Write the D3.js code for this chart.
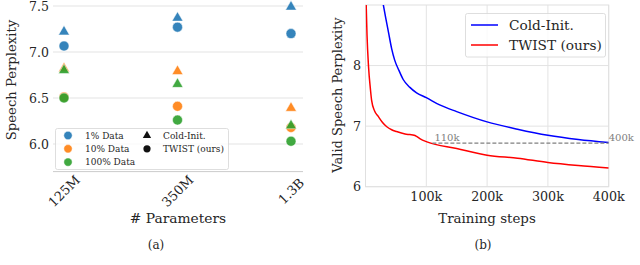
<!DOCTYPE html>
<html>
<head>
<meta charset="utf-8">
<script src="https://cdn.jsdelivr.net/npm/d3@7"></script>
<style>
  body { margin: 0; background: #fff; }
  svg { font-family: "DejaVu Serif", serif; }
</style>
</head>
<body>
<svg id="drawing_region"></svg>
<script>
// ---- panel (a) data ----
const sizes = ["125M", "350M", "1.3B"];
const dataLabels = ["1% Data", "10% Data", "100% Data"];
const dataColors = ["#1f77b4", "#ff7f0e", "#2ca02c"];
const coldInit = [
    [7.22, 7.37, 7.49],
    [6.82, 6.79, 6.39],
    [6.80, 6.65, 6.20]
];
const twist = [
    [7.065, 7.27, 7.20],
    [6.51, 6.41, 6.18],
    [6.50, 6.26, 6.03]
];
const yTicksA = [6.0, 6.5, 7.0, 7.5];

// ---- panel (b) data ----
const coldSteps = [29000, 33000, 38000, 43000, 48000, 55000, 62000, 73000, 84000, 100000, 122000, 150000, 200000, 250000, 300000, 350000, 400000];
const coldPpl   = [9.02, 8.80, 8.54, 8.28, 8.09, 7.92, 7.77, 7.64, 7.55, 7.47, 7.35, 7.24, 7.07, 6.95, 6.85, 6.78, 6.73];
const twistSteps = [1000, 2500, 5000, 8000, 10000, 15000, 21000, 28000, 35000, 43000, 51000, 65000, 73000, 80000, 84000, 90000, 101000, 150000, 200000, 250000, 300000, 350000, 400000];
const twistPpl   = [9.05, 8.50, 7.98, 7.62, 7.43, 7.25, 7.16, 7.06, 6.99, 6.94, 6.91, 6.87, 6.86, 6.85, 6.83, 6.79, 6.74, 6.63, 6.52, 6.47, 6.40, 6.35, 6.31];
const xTicksB = [100000, 200000, 300000, 400000];
const yTicksB = [6, 7, 8];
const refLevel = 6.72;
const refStart = 110000;
const refEnd = 400000;

const svg = d3.select('#drawing_region')
    .attr('width', 640)
    .attr('height', 265);

const gridColor = '#e3e3e3';
const textColor = '#262626';

// =============== panel (a) ===============
const a = { left: 53, right: 303, top: 6, bottom: 171.6 };

const xa = d3.scalePoint().domain(sizes).range([64, 291]);
const ya = d3.scaleLinear().domain([5.7, 7.5]).range([a.bottom, a.top]);

const ga = svg.append('g');

ga.selectAll('.grid')
    .data(yTicksA)
    .enter()
    .append('line')
    .attr('x1', a.left).attr('x2', a.right)
    .attr('y1', d => ya(d)).attr('y2', d => ya(d))
    .attr('stroke', gridColor).attr('stroke-width', 1);

ga.append('line')
    .attr('x1', a.left).attr('x2', a.right)
    .attr('y1', a.bottom).attr('y2', a.bottom)
    .attr('stroke', '#cccccc').attr('stroke-width', 1);

ga.selectAll('.ytick')
    .data(yTicksA)
    .enter()
    .append('text')
    .attr('x', 49)
    .attr('y', d => ya(d))
    .attr('dy', '0.36em')
    .attr('text-anchor', 'end')
    .attr('font-size', '12.5px')
    .attr('fill', textColor)
    .text(d => d3.format('.1f')(d));

ga.selectAll('.xtick')
    .data(sizes)
    .enter()
    .append('text')
    .attr('transform', d => `translate(${xa(d)}, 191) rotate(-45)`)
    .attr('text-anchor', 'middle')
    .attr('dy', '0.36em')
    .attr('font-size', '13px')
    .attr('fill', textColor)
    .text(d => d);

ga.append('text')
    .attr('transform', 'translate(11, 80) rotate(-90)')
    .attr('text-anchor', 'middle')
    .attr('dy', '0.36em')
    .attr('font-size', '13.2px')
    .attr('fill', textColor)
    .text('Speech Perplexity');

ga.append('text')
    .attr('x', 178).attr('y', 223)
    .attr('text-anchor', 'middle')
    .attr('font-size', '13.8px')
    .attr('fill', textColor)
    .text('# Parameters');

ga.append('text')
    .attr('x', 156).attr('y', 249)
    .attr('text-anchor', 'middle')
    .attr('font-size', '12px')
    .attr('fill', textColor)
    .text('(a)');

const tri = d3.symbol().type(d3.symbolTriangle).size(52);

dataLabels.forEach((lab, i) => {
    ga.selectAll('.tri' + i)
        .data(coldInit[i])
        .enter()
        .append('path')
        .attr('d', tri)
        .attr('transform', (d, j) => `translate(${xa(sizes[j])}, ${ya(d)})`)
        .attr('fill', dataColors[i])
        .attr('fill-opacity', 0.9)
        .attr('stroke', '#fff').attr('stroke-width', 0.5);
    ga.selectAll('.dot' + i)
        .data(twist[i])
        .enter()
        .append('circle')
        .attr('cx', (d, j) => xa(sizes[j]))
        .attr('cy', d => ya(d))
        .attr('r', 5)
        .attr('fill', dataColors[i])
        .attr('fill-opacity', 0.9)
        .attr('stroke', '#fff').attr('stroke-width', 0.5);
});

// legend (a)
const la = ga.append('g');
la.append('rect')
    .attr('x', 55.5).attr('y', 128.5)
    .attr('width', 173).attr('height', 41)
    .attr('rx', 2)
    .attr('fill', '#fff').attr('fill-opacity', 0.8)
    .attr('stroke', '#d6d6d6').attr('stroke-width', 0.8);

dataLabels.forEach((lab, i) => {
    const y = 135.5 + i * 13.3;
    la.append('circle')
        .attr('cx', 68).attr('cy', y).attr('r', 4.2)
        .attr('fill', dataColors[i])
        .attr('fill-opacity', 0.9)
        .attr('stroke', '#fff').attr('stroke-width', 0.5);
    la.append('text')
        .attr('x', 85).attr('y', y)
        .attr('dy', '0.36em')
        .attr('font-size', '9px')
        .attr('fill', textColor)
        .text(lab);
});
la.append('path')
    .attr('d', d3.symbol().type(d3.symbolTriangle).size(30))
    .attr('transform', 'translate(147, 135.5)')
    .attr('fill', '#111');
la.append('text')
    .attr('x', 163).attr('y', 135.5).attr('dy', '0.36em')
    .attr('font-size', '9px').attr('fill', textColor)
    .text('Cold-Init.');
la.append('circle')
    .attr('cx', 147).attr('cy', 148.8).attr('r', 3.6)
    .attr('fill', '#111');
la.append('text')
    .attr('x', 163).attr('y', 148.8).attr('dy', '0.36em')
    .attr('font-size', '9px').attr('fill', textColor)
    .text('TWIST (ours)');

// =============== panel (b) ===============
const b = { left: 365.5, right: 608.7, top: 5, bottom: 186.7 };

const xb = d3.scaleLinear().domain([0, 400000]).range([b.left, b.right]);
const yb = d3.scaleLinear().domain([6, 9]).range([b.bottom, b.top]);

const gb = svg.append('g');

gb.append('defs').append('clipPath')
    .attr('id', 'clipb')
    .append('rect')
    .attr('x', b.left).attr('y', b.top)
    .attr('width', b.right - b.left).attr('height', b.bottom - b.top);

gb.selectAll('.gx')
    .data(xTicksB)
    .enter()
    .append('line')
    .attr('x1', d => xb(d)).attr('x2', d => xb(d))
    .attr('y1', b.top).attr('y2', b.bottom)
    .attr('stroke', gridColor);

gb.selectAll('.gy')
    .data(yTicksB)
    .enter()
    .append('line')
    .attr('x1', b.left).attr('x2', b.right)
    .attr('y1', d => yb(d)).attr('y2', d => yb(d))
    .attr('stroke', gridColor);

gb.append('rect')
    .attr('x', b.left).attr('y', b.top)
    .attr('width', b.right - b.left).attr('height', b.bottom - b.top)
    .attr('fill', 'none')
    .attr('stroke', '#e0e0e0');

gb.selectAll('.xtb')
    .data(xTicksB)
    .enter()
    .append('text')
    .attr('x', d => xb(d)).attr('y', 200.5)
    .attr('text-anchor', 'middle')
    .attr('font-size', '12.7px')
    .attr('fill', textColor)
    .text(d => (d / 1000) + 'k');

gb.selectAll('.ytb')
    .data(yTicksB)
    .enter()
    .append('text')
    .attr('x', 361).attr('y', d => yb(d))
    .attr('dy', '0.36em')
    .attr('text-anchor', 'end')
    .attr('font-size', '12.7px')
    .attr('fill', textColor)
    .text(d => d);

gb.append('text')
    .attr('transform', 'translate(337, 95) rotate(-90)')
    .attr('text-anchor', 'middle')
    .attr('dy', '0.36em')
    .attr('font-size', '13px')
    .attr('fill', textColor)
    .text('Valid Speech Perplexity');

gb.append('text')
    .attr('x', 487).attr('y', 222.5)
    .attr('text-anchor', 'middle')
    .attr('font-size', '13.4px')
    .attr('fill', textColor)
    .text('Training steps');

gb.append('text')
    .attr('x', 483).attr('y', 249)
    .attr('text-anchor', 'middle')
    .attr('font-size', '12px')
    .attr('fill', textColor)
    .text('(b)');

const line = d3.line()
    .x(d => xb(d[0]))
    .y(d => yb(d[1]))
    .curve(d3.curveMonotoneX);

const lines = gb.append('g').attr('clip-path', 'url(#clipb)');

lines.append('path')
    .datum(d3.zip(coldSteps, coldPpl))
    .attr('d', line)
    .attr('fill', 'none')
    .attr('stroke', '#0000ff')
    .attr('stroke-width', 1.5);

lines.append('path')
    .datum(d3.zip(twistSteps, twistPpl))
    .attr('d', line)
    .attr('fill', 'none')
    .attr('stroke', '#ff0000')
    .attr('stroke-width', 1.5);

gb.append('line')
    .attr('x1', xb(refStart)).attr('x2', xb(refEnd))
    .attr('y1', yb(refLevel)).attr('y2', yb(refLevel))
    .attr('stroke', '#808080')
    .attr('stroke-width', 1.3)
    .attr('stroke-dasharray', '4,2');

gb.append('text')
    .attr('x', xb(refStart) + 2).attr('y', yb(refLevel) - 2)
    .attr('font-size', '10px')
    .attr('fill', '#808080')
    .text('110k');

gb.append('text')
    .attr('x', xb(refEnd)).attr('y', yb(refLevel) - 2)
    .attr('font-size', '10px')
    .attr('fill', '#808080')
    .text('400k');

// legend (b)
const lb = gb.append('g');
lb.append('rect')
    .attr('x', 465.5).attr('y', 13.5)
    .attr('width', 140).attr('height', 43.5)
    .attr('rx', 2)
    .attr('fill', '#fff').attr('fill-opacity', 0.8)
    .attr('stroke', '#d6d6d6').attr('stroke-width', 0.8);

[['Cold-Init.', '#0000ff'], ['TWIST (ours)', '#ff0000']].forEach((e, i) => {
    const y = 25 + i * 20;
    lb.append('line')
        .attr('x1', 471).attr('x2', 498)
        .attr('y1', y).attr('y2', y)
        .attr('stroke', e[1]).attr('stroke-width', 1.5);
    lb.append('text')
        .attr('x', 509).attr('y', y)
        .attr('dy', '0.36em')
        .attr('font-size', '13.7px')
        .attr('fill', textColor)
        .text(e[0]);
});
</script>
</body>
</html>
